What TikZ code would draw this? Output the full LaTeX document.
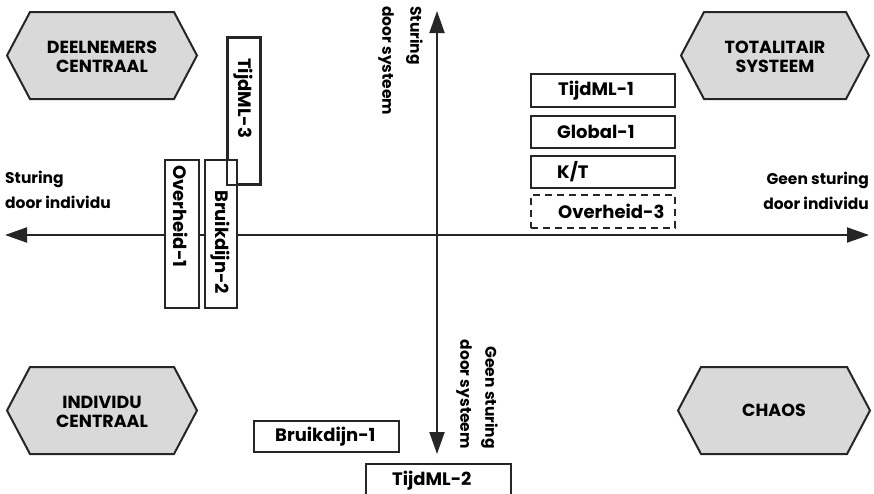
\documentclass[tikz,border=0pt]{standalone}
\usepackage{fontspec}
\setmainfont{Poppins}
\usetikzlibrary{arrows.meta}
\begin{document}
\begin{tikzpicture}[x=1pt,y=-1pt,
  hex/.style={draw=black!85, fill=black!15, line width=2pt, line join=miter},
  hextxt/.style={font=\bfseries\fontsize{17.5}{19}\selectfont, align=center, inner sep=0pt},
  boxn/.style={draw=black!85, fill=white, line width=2.2pt, inner sep=0pt, anchor=north west},
  boxtxt/.style={font=\bfseries\fontsize{18}{20}\selectfont, inner sep=0pt},
  axtxt/.style={font=\bfseries\fontsize{15.5}{25}\selectfont, inner sep=0pt},
  axis/.style={line width=2pt, draw=black!85},
  tip/.style={-{Triangle[length=22pt,width=15pt]}}
]
\useasboundingbox (0,0) rectangle (874,493);
\begin{scope}
\clip (0,0) rectangle (874,493);
% axes
\coordinate (L) at (5,235);
\coordinate (R) at (869,235);
\coordinate (T) at (437,11);
\coordinate (B) at (437,454);
\coordinate (O) at (437,235);
\draw[axis, tip] (O) -- (L);
\draw[axis, tip] (O) -- (R);
\draw[axis, tip] (O) -- (T);
\draw[axis, tip] (O) -- (B);
% hexagons
\draw[hex] (7,55.5) -- (30,12) -- (174,12) -- (197,55.5) -- (174,99) -- (30,99) -- cycle;
\node[hextxt] (deel) at (102,57) {DEELNEMERS\\CENTRAAL};
\draw[hex] (681,55.5) -- (704,12) -- (846,12) -- (869,55.5) -- (846,99) -- (704,99) -- cycle;
\node[hextxt] (tot) at (775,57) {TOTALITAIR\\SYSTEEM};
\draw[hex] (7,410.5) -- (30,367) -- (174,367) -- (197,410.5) -- (174,454) -- (30,454) -- cycle;
\node[hextxt] (ind) at (102,412) {INDIVIDU\\CENTRAAL};
\draw[hex] (678,410.5) -- (701,367) -- (847,367) -- (870,410.5) -- (847,454) -- (701,454) -- cycle;
\node[hextxt] (chaos) at (774,410.5) {CHAOS};
% boxes right
\node[boxn, minimum width=144pt, minimum height=33pt] (t1) at (530,73) {};
\node[boxtxt, anchor=west, xshift=28pt] (t1t) at (t1.west) {TijdML-1};
\node[boxn, minimum width=144pt, minimum height=32pt] (g1) at (530,115) {};
\node[boxtxt, anchor=west, xshift=27pt] (g1t) at (g1.west) {Global-1};
\node[boxn, minimum width=144pt, minimum height=32pt] (kt) at (530,155) {};
\node[boxtxt, anchor=west, xshift=27pt] (ktt) at (kt.west) {K/T};
\node[boxn, dashed, dash pattern=on 7pt off 5pt, minimum width=144pt, minimum height=33pt] (o3) at (530,194) {};
\node[boxtxt, anchor=west, xshift=28pt] (o3t) at (o3.west) {Overheid-3};
% boxes left
\node[boxn, minimum width=32pt, minimum height=146pt] (t3) at (227,37) {};
\node[boxn, minimum width=34pt, minimum height=148pt] (o1) at (164,159) {};
\node[boxtxt, rotate=-90, anchor=west] (o1t) at (181,165) {Overheid-1};
\node[boxn, minimum width=32pt, minimum height=148pt] (b2) at (204,159) {};
\node[boxtxt, rotate=-90, anchor=west] (b2t) at (220,190) {Bruikdijn-2};
\draw[draw=black!85, line width=2.2pt] (t3.north west) rectangle (t3.south east);
\node[boxtxt, rotate=-90, anchor=west] (t3t) at (243,58) {TijdML-3};
% boxes bottom
\node[boxn, minimum width=145pt, minimum height=31pt] (b1) at (253,420) {};
\node[boxtxt, anchor=west, xshift=22pt] (b1t) at (b1.west) {Bruikdijn-1};
\node[boxn, minimum width=145pt, minimum height=33pt] (t2) at (365,463) {};
\node[boxtxt, anchor=west, xshift=27pt] (t2t) at (t2.west) {TijdML-2};
% axis labels
\node[axtxt, align=left, anchor=north west] (lt) at (5,171) {Sturing\\door individu};
\node[axtxt, align=right, anchor=north east] (rt) at (869,172) {Geen sturing\\door individu};
\node[axtxt, align=left, anchor=north west, rotate=-90, font=\bfseries\fontsize{15.5}{28}\selectfont] (tt) at (423,6) {Sturing\\door systeem};
\node[axtxt, align=right, anchor=north east, rotate=-90] (bt) at (498,449) {Geen sturing\\door systeem};
\end{scope}
\end{tikzpicture}
\end{document}
